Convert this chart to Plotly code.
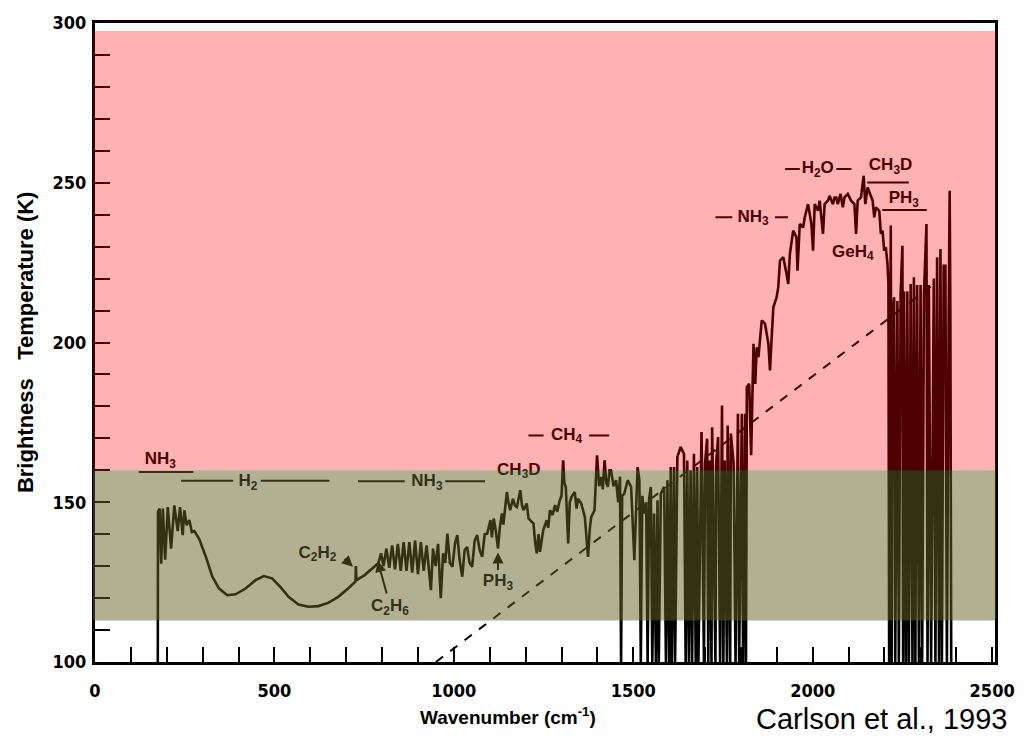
import plotly.graph_objects as go

# ---------------- data ----------------
# Spectrum: wavenumber (cm^-1) and brightness temperature (K)
wavenumber = [
    175, 175.5, 180, 184.4, 189, 195.5, 202.9, 212, 221, 230.5, 237, 244.4, 249, 255.4, 262.8, 270, 277,
    290.5, 309, 327, 345.8, 368.8, 391.9, 419.6, 447.3, 470.3, 493.3, 516.4, 539.4, 567, 594.7, 622.4,
    650, 677.7, 705.4, 726, 727, 728.5, 751.5, 779.2,
    790, 797, 804, 812, 820, 828, 836, 844, 852, 860, 868, 876, 884, 892, 900, 908, 916, 924, 930,
    936, 942, 949,
    956, 963.6, 970, 976, 982, 989, 996, 1003, 1009.7, 1016, 1023.5, 1030, 1037, 1044, 1051, 1058, 1065,
    1072, 1079, 1086, 1093, 1102, 1106, 1111, 1117, 1123, 1128, 1134, 1138, 1143, 1147.7, 1152, 1157,
    1164.6, 1170, 1175.7, 1185, 1190, 1194, 1203, 1208, 1212.5, 1222, 1226, 1231, 1236, 1240, 1249,
    1258.6, 1263, 1268, 1275, 1282, 1288, 1295, 1300, 1304.6, 1308, 1312, 1318.5, 1323, 1328, 1337,
    1342, 1346, 1355, 1360, 1365, 1374, 1379, 1383, 1392, 1399, 1405, 1411, 1415, 1420, 1425, 1429,
    1434, 1438, 1445, 1452, 1458, 1463, 1466, 1469, 1475, 1484.5, 1494, 1503, 1512, 1517, 1521, 1525,
    1530.6, 1536, 1540, 1544, 1549, 1553, 1558, 1563, 1567.5, 1571, 1576.8, 1586, 1591, 1595.2, 1600,
    1604.4, 1607.5, 1613.6, 1616.5, 1622.9, 1632, 1641.3, 1646, 1650.5, 1655, 1659.7, 1664, 1669, 1674,
    1678.2, 1681.5, 1690.2, 1697, 1700, 1705.8, 1709, 1712.3, 1718, 1719.7, 1729, 1731, 1736.3, 1742,
    1747.3, 1751, 1754.7, 1761, 1763, 1770, 1772, 1779.6, 1785, 1791.6, 1795, 1802.6, 1806, 1811.9,
    1814, 1816.5, 1823, 1828.5, 1835, 1840, 1844, 1848.8, 1858, 1867.3, 1876.5, 1881, 1885.7, 1890.3,
    1899.5, 1904, 1908.8, 1918, 1927, 1931.8, 1936.4, 1945.6, 1954.9, 1957.6, 1964, 1973.3, 1977.9,
    1987.1, 1996.3, 2001, 2005.6, 2014.8, 2019.4, 2028.6, 2033.2, 2042.4, 2047, 2056.3, 2060.9, 2065.5,
    2070, 2077.5, 2084, 2088.5, 2097.8, 2107, 2116.2, 2120.8, 2125.4, 2134.6, 2142, 2146.6, 2153, 2160.5,
    2167, 2171.5, 2176, 2185.4, 2190, 2194.6, 2199.2, 2203.8, 2208.4, 2211, 2213, 2217.6, 2220, 2222,
    2226.8, 2230, 2236, 2240, 2245, 2250, 2252, 2254.5, 2260, 2263.7, 2268, 2273, 2278, 2282, 2286,
    2291, 2296, 2300.6, 2305, 2310, 2317, 2320, 2323.6, 2330, 2337.5, 2342, 2346.7, 2352, 2356, 2360,
    2365, 2369.7, 2374, 2379, 2381.7, 2383.6, 2386,
]
brightness_temp = [
    100, 147, 148, 130.8, 148, 132, 148.5, 135.5, 149, 141, 148.5, 139.7, 147.5, 142.8, 144.4, 140.7, 141,
    138.5, 132.9, 126.7, 123, 120.9, 121.2, 123, 125.6, 126.9, 126.2, 123.5, 120.4, 118, 117.3, 117.5,
    118.5, 120.4, 123, 125.2, 130, 125.6, 127.2, 129.8,
    131, 134, 130, 135.5, 129.5, 136.5, 129, 137, 128.5, 137.5, 128.5, 137.5, 128, 138, 127.5, 137.5, 128.5, 136.5, 129,
    122.5, 135.5, 130,
    137, 120, 134, 131, 140.2, 131, 129.8, 137, 139.7, 132, 126.7, 135, 136, 131, 129.8, 138, 139.7,
    135, 132.9, 140, 140.2, 144.4, 139, 144.9, 141, 135.5, 142, 146.5, 143, 149.6, 153.2, 150, 147.5,
    151.1, 149, 148.5, 153.75, 149, 147.5, 149.6, 145, 144.4, 143.3, 138, 134, 140, 134.5, 141.25,
    144.4, 142, 147.5, 146, 149.1, 147, 150.6, 152, 163.1, 156, 154.8, 137.1, 150, 151.7, 153.2,
    148, 151.1, 149.6, 147, 145.4, 132.9, 142, 145.4, 147.5, 164.7, 155, 157.9, 154, 163.1, 156, 154.8,
    160, 160, 155, 156.9, 150, 158, 100, 152, 152.7, 156.9, 154.8, 131.9, 161, 156.9, 100, 152,
    146.5, 150, 100, 151, 154.8, 100, 146.5, 100, 150.6, 100, 152.7, 154.8, 100, 156.9, 100,
    161, 100, 161, 100, 164.2, 167.3, 165.2, 100, 163.1, 100, 160, 100, 165.2, 100,
    161, 100, 172, 100, 162.1, 169.9, 100, 163.1, 100, 173.5, 100, 162, 170.4, 100,
    180.3, 100, 163.1, 100, 174, 100, 171.5, 162.1, 100, 177.7, 100, 177.7, 100, 177.7,
    100, 186, 187.1, 164.7, 199.6, 187, 198.5, 195.4, 206.9, 205.8, 199.6, 191.25, 201.7, 211,
    214.2, 217.3, 225.6, 226.7, 221.5, 218.3, 227.7, 235, 232.9, 222.5, 237.1, 236, 239.2,
    243.3, 237.1, 228.75, 243.3, 241.25, 244.4, 234, 243.3, 244.4, 245.9, 243.3, 245.4, 245.4,
    243.3, 246.5, 242.3, 245.4, 246.5, 244.4, 243.3, 234, 244.4, 245.4, 252.2, 243.3, 248.5, 246.5,
    244.4, 239.2, 242.3, 241.25, 234, 235, 228.75, 229.8, 224.6, 218.3, 100, 236.6, 100, 208,
    214.2, 100, 213, 100, 215, 230.3, 100, 216, 100, 216, 100, 218.3, 100, 220.4, 100,
    218, 100, 218, 100, 215, 237.1, 100, 218, 100, 220, 100, 226.7, 100, 229.3, 100,
    224, 224, 100, 209, 247.5, 209, 100,
]

# dashed reference line (end points)
dashed_wn = [950, 2335]
dashed_temp = [100, 218]

# axis ticks
x_tick_values = [0, 500, 1000, 1500, 2000, 2500]
x_tick_labels = ["0", "500", "1000", "1500", "2000", "2500"]
y_tick_values = [100, 150, 200, 250, 300]
y_tick_labels = ["100", "150", "200", "250", "300"]

# molecule labels (text, wavenumber, temperature)
label_text = ["NH<sub>3</sub>", "H<sub>2</sub>", "NH<sub>3</sub>", "CH<sub>3</sub>D", "PH<sub>3</sub>",
              "CH<sub>4</sub>", "C<sub>2</sub>H<sub>2</sub>", "C<sub>2</sub>H<sub>6</sub>",
              "NH<sub>3</sub>", "H<sub>2</sub>O", "CH<sub>3</sub>D", "PH<sub>3</sub>", "GeH<sub>4</sub>"]
label_wn = [182, 426, 925, 1181, 1123, 1314, 620, 822, 1834, 2014, 2217, 2254, 2112]
label_temp = [163.3, 156.3, 156.3, 160.0, 125.0, 170.9, 134.0, 117.3, 239.2, 254.3, 255.3, 245.0, 228.2]

# band-marker lines beside the labels (start wn, end wn, temperature)
band_start = [122, 240, 462, 733, 976, 1208, 1377, 1729, 1895, 1923, 2066, 2152, 2194]
band_end = [274, 385, 653, 863, 1087, 1250, 1433, 1776, 1931, 1964, 2108, 2268, 2318]
band_temp = [159.5, 156.7, 156.7, 156.6, 156.6, 170.9, 170.9, 239.2, 239.2, 254.3, 254.3, 250.1, 241.5]

# temperature bands highlighted by the overlays
red_band = [160, 297.5]
olive_band = [113, 160]

# ---------------- figure ----------------
BLACK = "black"
fig = go.Figure()

fig.add_trace(go.Scatter(x=wavenumber, y=brightness_temp, mode="lines",
                         line=dict(color=BLACK, width=2.6), hoverinfo="skip"))
fig.add_trace(go.Scatter(x=dashed_wn, y=dashed_temp, mode="lines",
                         line=dict(color=BLACK, width=2, dash="9px,9px"), hoverinfo="skip"))

bx, by = [], []
for s, e, t in zip(band_start, band_end, band_temp):
    bx += [s, e, None]
    by += [t, t, None]
fig.add_trace(go.Scatter(x=bx, y=by, mode="lines", line=dict(color=BLACK, width=2),
                         hoverinfo="skip"))

fig.add_trace(go.Scatter(x=label_wn, y=label_temp, mode="text",
                         text=["<b>%s</b>" % t for t in label_text],
                         textposition="middle center",
                         textfont=dict(family="Liberation Sans", size=17, color=BLACK),
                         hoverinfo="skip"))

# translucent overlays, drawn above the data
fig.add_shape(type="rect", xref="paper", x0=-0.002, x1=1.001, yref="y",
              y0=red_band[0], y1=red_band[1], fillcolor="rgba(255,0,0,0.3)",
              line=dict(width=0), layer="above")
fig.add_shape(type="rect", xref="paper", x0=-0.002, x1=1.001, yref="y",
              y0=olive_band[0], y1=olive_band[1], fillcolor="rgba(100,97,40,0.5)",
              line=dict(width=0), layer="above")

ARROW = "#323014"
for (hx, hy, tx, ty) in [(1123, 134.3, 1123, 128.3), (719, 129.8, 691, 132.7), (788, 131.6, 814, 121.0)]:
    fig.add_annotation(x=hx, y=hy, ax=tx, ay=ty, xref="x", yref="y", axref="x", ayref="y",
                       text="", showarrow=True, arrowhead=2, arrowsize=1.1, arrowwidth=2,
                       arrowcolor=ARROW)

tick_font = dict(family="DejaVu Sans Condensed", size=18, color=BLACK, weight="bold")
fig.update_xaxes(range=[0, 2508], showline=True, linewidth=3, linecolor=BLACK, mirror=True,
                 ticks="inside", ticklen=15, tickwidth=2, tickcolor=BLACK,
                 tickvals=x_tick_values, ticktext=x_tick_labels, tickfont=tick_font,
                 ticklabelstandoff=10,
                 minor=dict(ticks="inside", ticklen=15, tickwidth=2, tickcolor=BLACK, dtick=100,
                            showgrid=False),
                 showgrid=False, zeroline=False)
fig.update_yaxes(range=[100, 300], showline=True, linewidth=3, linecolor=BLACK, mirror=True,
                 ticks="inside", ticklen=15, tickwidth=2, tickcolor=BLACK,
                 tickvals=y_tick_values, ticktext=y_tick_labels, tickfont=tick_font,
                 ticklabelstandoff=2,
                 minor=dict(ticks="inside", ticklen=15, tickwidth=2, tickcolor=BLACK, dtick=10,
                            showgrid=False),
                 showgrid=False, zeroline=False)

fig.add_annotation(xref="paper", yref="paper", x=(25 - 95) / 908, y=0.5, textangle=-90,
                   xanchor="center", yanchor="middle",
                   text="<b>Brightness   Temperature (K)</b>", showarrow=False,
                   font=dict(family="Liberation Sans", size=22, color=BLACK))
fig.add_annotation(xref="paper", yref="paper", x=(512 - 95) / 908, y=-(716 - 662) / 640,
                   xanchor="center", yanchor="middle",
                   text="<b>Wavenumber (cm<sup>-1</sup>)</b>", showarrow=False,
                   font=dict(family="Liberation Sans", size=19, color=BLACK))
fig.add_annotation(xref="paper", yref="paper", x=(888 - 95) / 908, y=-(719 - 662) / 640,
                   xanchor="center", yanchor="middle",
                   text="Carlson et al., 1993", showarrow=False,
                   font=dict(family="Liberation Sans", size=29, color=BLACK))

fig.update_layout(width=1027, height=750, margin=dict(l=95, r=24, t=22, b=88),
                  plot_bgcolor="white", paper_bgcolor="white", showlegend=False)

fig.write_html("out.html")
